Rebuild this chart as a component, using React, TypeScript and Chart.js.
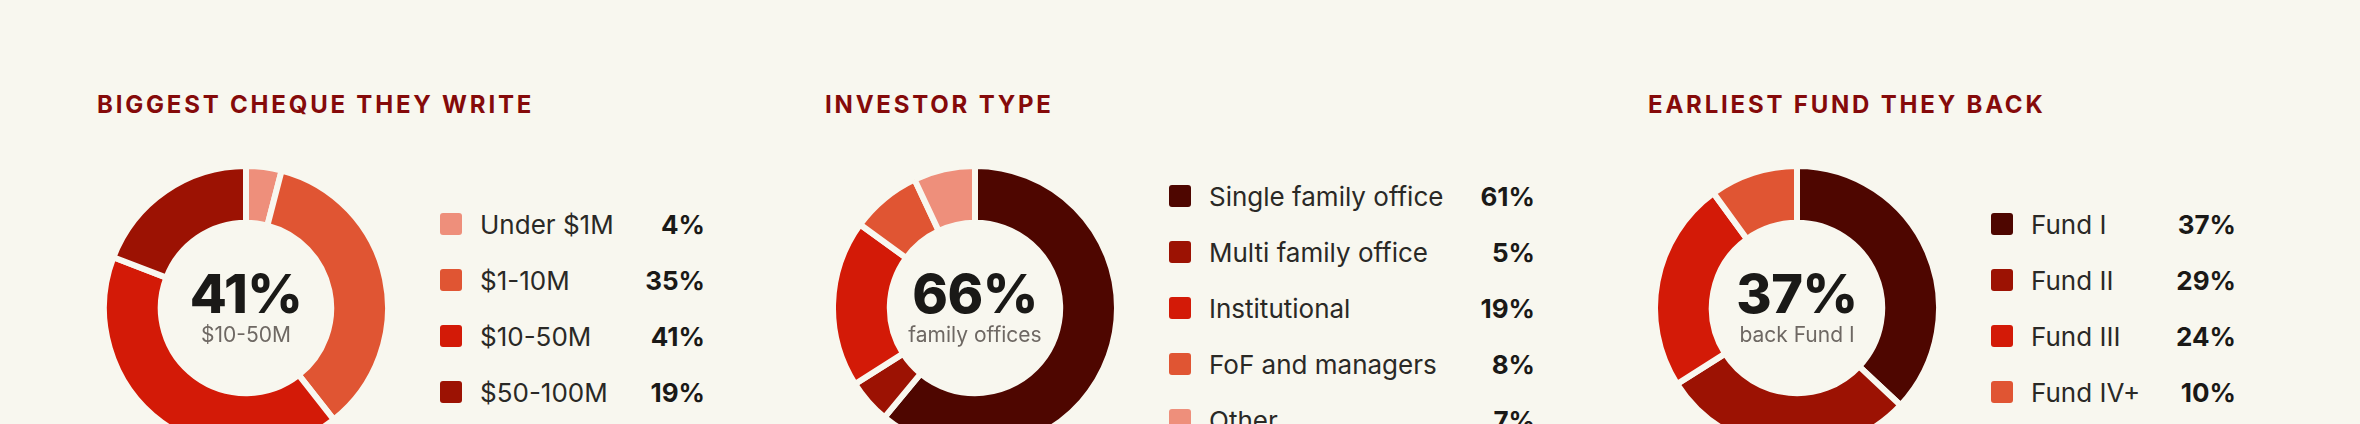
import { useEffect, useRef } from "react";
import { Chart, registerables } from "chart.js";

Chart.register(...registerables);

const BG = "#f8f7ef";
const SALMON = "#ee8f7b";
const ORANGE = "#e05533";
const RED = "#d31a07";
const DARK_RED = "#9c1203";
const MAROON = "#4e0600";

const chequeLabels = ["Under $1M", "$1-10M", "$10-50M", "$50-100M"];
const chequeValues = [4, 35, 41, 19];
const chequeColors = [SALMON, ORANGE, RED, DARK_RED];

const investorLabels = [
  "Single family office",
  "Multi family office",
  "Institutional",
  "FoF and managers",
  "Other",
];
const investorValues = [61, 5, 19, 8, 7];
const investorColors = [MAROON, DARK_RED, RED, ORANGE, SALMON];

const fundLabels = ["Fund I", "Fund II", "Fund III", "Fund IV+"];
const fundValues = [37, 29, 24, 10];
const fundColors = [MAROON, DARK_RED, RED, ORANGE];

const FONT = "Inter, 'Noto Sans', sans-serif";
const SIZE = 290;
const CENTER_Y = 308;
const ROW_H = 56;

interface PanelProps {
  title: string;
  titleX: number;
  centerX: number;
  labels: string[];
  values: number[];
  colors: string[];
  bigText: string;
  subText: string;
  legendX: number;
  legendW: number;
}

function Panel({
  title,
  titleX,
  centerX,
  labels,
  values,
  colors,
  bigText,
  subText,
  legendX,
  legendW,
}: PanelProps) {
  const canvasRef = useRef<HTMLCanvasElement>(null);

  useEffect(() => {
    const ctx = canvasRef.current?.getContext("2d");
    if (!ctx) return;

    const chart = new Chart(ctx, {
      type: "doughnut",
      data: {
        labels,
        datasets: [
          {
            data: values,
            backgroundColor: colors,
            borderColor: BG, // gaps between slices
            borderWidth: 6,
            hoverOffset: 0,
          },
        ],
      },
      options: {
        responsive: false,
        animation: false,
        cutout: "60%",
        layout: { padding: 0 },
        plugins: {
          legend: { display: false },
          tooltip: { enabled: false },
        },
      },
    });

    return () => chart.destroy();
  }, [labels, values, colors]);

  const left = centerX - SIZE / 2;
  const top = CENTER_Y - SIZE / 2;
  const legendTop = CENTER_Y - (labels.length * ROW_H) / 2;

  return (
    <>
      <div
        style={{
          position: "absolute",
          left: titleX,
          top: 93,
          fontSize: 24,
          lineHeight: "24px",
          fontWeight: 700,
          letterSpacing: "2.8px",
          color: "#850a0a",
          whiteSpace: "nowrap",
        }}
      >
        {title}
      </div>

      <canvas
        ref={canvasRef}
        width={SIZE}
        height={SIZE}
        style={{ position: "absolute", left, top, width: SIZE, height: SIZE }}
      />

      {/* text in the hole */}
      <div
        style={{
          position: "absolute",
          left,
          width: SIZE,
          top: 267,
          textAlign: "center",
          pointerEvents: "none",
        }}
      >
        <div
          style={{
            fontSize: 54,
            lineHeight: "54px",
            fontWeight: 800,
            letterSpacing: "-0.5px",
            color: "#1a1917",
          }}
        >
          {bigText}
        </div>
        <div style={{ fontSize: 21, lineHeight: "21px", marginTop: 3, color: "#6e6863" }}>
          {subText}
        </div>
      </div>

      <div style={{ position: "absolute", left: legendX, top: legendTop, width: legendW }}>
        {labels.map((label, i) => (
          <div
            key={label}
            style={{ display: "flex", alignItems: "center", height: ROW_H }}
          >
            <span
              style={{
                width: 22,
                height: 22,
                borderRadius: 3,
                background: colors[i],
                marginRight: 18,
                flex: "none",
              }}
            />
            <span style={{ flex: 1, fontSize: 26, color: "#2a2926", whiteSpace: "nowrap" }}>
              {label}
            </span>
            <span style={{ fontSize: 26, fontWeight: 700, color: "#1a1917" }}>
              {values[i]}%
            </span>
          </div>
        ))}
      </div>
    </>
  );
}

export default function App() {
  return (
    <div
      style={{
        position: "fixed",
        left: 0,
        top: 0,
        width: 2360,
        height: 424,
        overflow: "hidden",
        background: BG,
        fontFamily: FONT,
      }}
    >
      <Panel
        title="BIGGEST CHEQUE THEY WRITE"
        titleX={97}
        centerX={246}
        labels={chequeLabels}
        values={chequeValues}
        colors={chequeColors}
        bigText="41%"
        subText="$10-50M"
        legendX={440}
        legendW={265}
      />
      <Panel
        title="INVESTOR TYPE"
        titleX={825}
        centerX={975}
        labels={investorLabels}
        values={investorValues}
        colors={investorColors}
        bigText="66%"
        subText="family offices"
        legendX={1169}
        legendW={366}
      />
      <Panel
        title="EARLIEST FUND THEY BACK"
        titleX={1648}
        centerX={1797}
        labels={fundLabels}
        values={fundValues}
        colors={fundColors}
        bigText="37%"
        subText="back Fund I"
        legendX={1991}
        legendW={245}
      />
    </div>
  );
}
